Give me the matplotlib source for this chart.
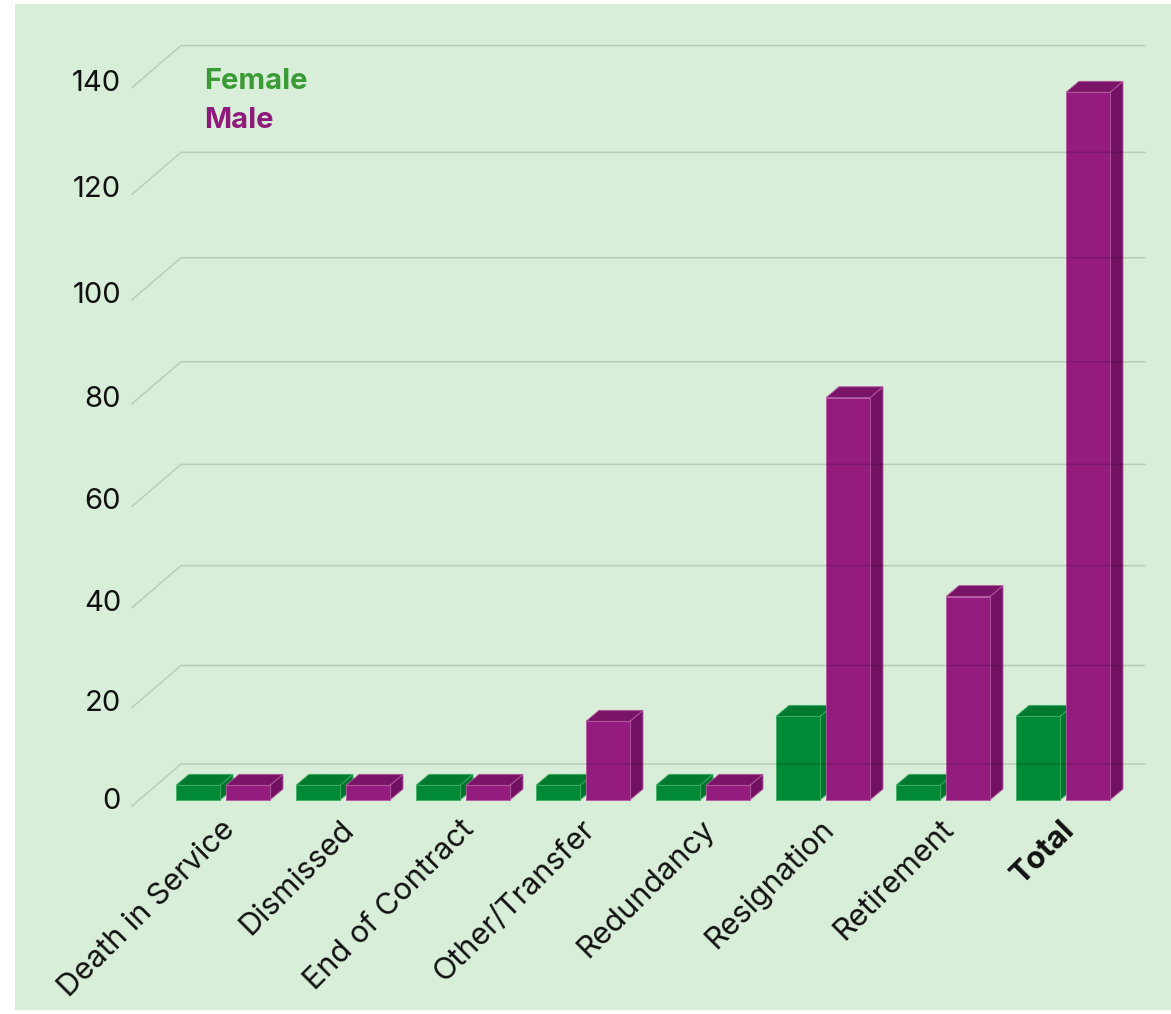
import numpy as np
import matplotlib
matplotlib.use("Agg")
import matplotlib.pyplot as plt
from matplotlib.patches import Polygon, Rectangle
from matplotlib.transforms import IdentityTransform

# data
categories = ['Death in Service', 'Dismissed', 'End of Contract', 'Other/Transfer',
              'Redundancy', 'Resignation', 'Retirement', 'Total']
female = [0, 0, 0, 0, 0, 17, 0, 17]
male = [0, 0, 0, 16, 0, 80, 41, 138]
yticks = [0, 20, 40, 60, 80, 100, 120, 140]

W, H = 1171, 1014
plt.rcParams['font.family'] = ['Inter', 'DejaVu Sans']

# fake 3d: slightly stretched y (perspective) and fixed pixel depth offsets
A, B = 4.890, 0.001726
C = B / A
def fwd(v):
    v = np.asarray(v, dtype=float)
    return v + C * v * v
def inv(u):
    u = np.asarray(u, dtype=float)
    return (-1 + np.sqrt(np.clip(1 + 4 * C * u, 0, None))) / (2 * C)

X0, PX = 216, 120.0          # pixel of group 0, pixels per category
Y0 = 208                     # pixel (from bottom) of value 0 on the front plane
WALL = np.array([49, 42])
FRONT = np.array([7, 6])
DEPTH = np.array([13, 11])
BAR_W = 44 / PX
GAP = 6 / PX
MIN_H = 3
GRID_LEFT, GRID_RIGHT = -0.7, 7.33

fig = plt.figure(figsize=(W / 100, H / 100), dpi=100)
fig.patch.set_facecolor('white')
fig.patches.append(Rectangle((15 / W, 4 / H), 1, 1 - 8 / H, transform=fig.transFigure,
                             facecolor='#d8eed8', edgecolor='none', zorder=-1))

ax = fig.add_axes([0, 0, 1, 1])
ax.patch.set_alpha(0)
ax.set_yscale('function', functions=(fwd, inv))
ax.set_xlim(-X0 / PX, (W - X0) / PX)
ax.set_ylim(float(inv(-Y0 / A)), float(inv((H - Y0) / A)))
ax.set_autoscale_on(False)
ax.axis('off')

ident = IdentityTransform()

def pt(x, v):
    return ax.transData.transform((x, v))

def bar3d(xl, val, face, top, side, edge):
    v = max(val, MIN_H)
    p0 = pt(xl, 0) + FRONT
    p1 = pt(xl + BAR_W, 0) + FRONT
    p2 = pt(xl + BAR_W, v) + FRONT
    p3 = pt(xl, v) + FRONT
    kw = dict(transform=ident, edgecolor=edge, linewidth=0.6, zorder=3)
    ax.add_patch(Polygon([p1, p1 + DEPTH, p2 + DEPTH, p2], facecolor=side, **kw))
    ax.add_patch(Polygon([p3, p2, p2 + DEPTH, p3 + DEPTH], facecolor=top, **kw))
    ax.add_patch(Polygon([p0, p1, p2, p3], facecolor=face, **kw))

for i in range(len(categories)):
    bar3d(i - GAP / 2 - BAR_W, female[i], '#008a36', '#007a2f', '#00762d', '#3fae64')
    bar3d(i + GAP / 2, male[i], '#931c7e', '#7a1467', '#731262', '#b55aa3')

# gridlines on the back wall, with the slanted bit on the left
for v in yticks:
    a = pt(GRID_LEFT, v)
    b = pt(GRID_RIGHT, v) + WALL
    xs = [a[0], a[0] + WALL[0], b[0]]
    ys = [a[1], a[1] + WALL[1], b[1]]
    ax.plot(xs, ys, color='black', alpha=0.14, lw=1.1, transform=ident, zorder=5)
    ax.annotate(str(v), xy=(GRID_LEFT, v), xytext=(-11, -3), textcoords='offset pixels',
                ha='right', va='baseline', fontsize=21, color='#111111')

for i, cat in enumerate(categories):
    ax.annotate(cat, xy=(i, 0), xytext=(14, -19), textcoords='offset pixels',
                rotation=45, rotation_mode='anchor', ha='right', va='center',
                fontsize=22, color='#111111',
                fontweight='bold' if cat == 'Total' else 'normal')

fig.text(204 / W, 1 - 89 / H, 'Female', color='#3a9a35', fontsize=21,
         fontweight='bold', va='baseline')
fig.text(204 / W, 1 - 128 / H, 'Male', color='#8e1a7c', fontsize=21,
         fontweight='bold', va='baseline')

fig.savefig('out.png', dpi=100)
